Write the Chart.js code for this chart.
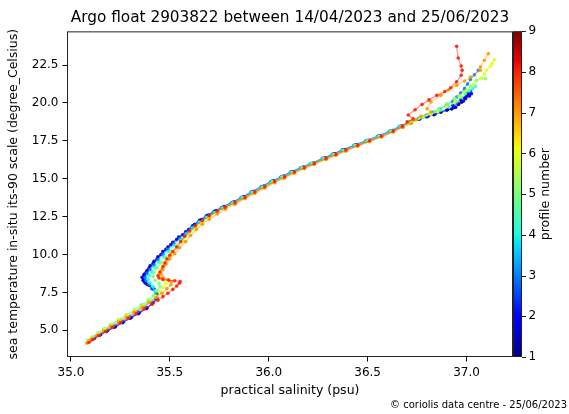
<!DOCTYPE html>
<html><head><meta charset="utf-8">
<script src="https://cdn.jsdelivr.net/npm/chart.js@4.4.0/dist/chart.umd.min.js"></script>
<style>html,body{margin:0;padding:0;background:#fff;overflow:hidden}</style>
</head><body>
<canvas id="c" width="569" height="414"></canvas>
<script>
const chartTitle = 'Argo float 2903822 between 14/04/2023 and 25/06/2023';
const xTitle = 'practical salinity (psu)';
const yTitle = 'sea temperature in-situ its-90 scale (degree_Celsius)';
const cbTitle = 'profile number';
const footer = '© coriolis data centre - 25/06/2023';
const xTicks = [35.0, 35.5, 36.0, 36.5, 37.0];
const yTicks = [5.0, 7.5, 10.0, 12.5, 15.0, 17.5, 20.0, 22.5];
const cbTicks = [1, 2, 3, 4, 5, 6, 7, 8, 9];
const profileNumbers = [1, 2, 3, 4, 5, 6, 7, 8];

const profile1 = [[35.09,4.28],[35.115,4.45],[35.145,4.68],[35.18,4.93],[35.22,5.2],[35.26,5.5],[35.30,5.8],[35.34,6.1],[35.38,6.42],[35.41,6.75],[35.43,7.08],[35.435,7.4],[35.42,7.72],[35.395,7.98],[35.375,8.12],[35.365,8.3],[35.36,8.5],[35.37,8.7],[35.385,8.95],[35.40,9.25],[35.42,9.55],[35.44,9.85],[35.465,10.2],[35.49,10.5],[35.515,10.8],[35.545,11.15],[35.58,11.5],[35.615,11.9],[35.65,12.25],[35.685,12.55],[35.725,12.85],[35.765,13.12],[35.815,13.43],[35.865,13.78],[35.915,14.13],[35.965,14.48],[36.015,14.83],[36.065,15.13],[36.115,15.45],[36.165,15.74],[36.215,16.0],[36.275,16.35],[36.325,16.62],[36.375,16.9],[36.435,17.22],[36.495,17.52],[36.555,17.82],[36.615,18.15],[36.665,18.45],[36.715,18.72],[36.76,18.92],[36.80,19.08],[36.835,19.22],[36.87,19.38],[36.9,19.52],[36.925,19.6],[36.945,19.72],[36.96,19.9],[36.975,20.05],[36.97,20.2],[36.99,20.32],[37.0,20.45],[37.015,20.55],[37.005,20.62]];
const profile2 = [[35.095,4.3],[35.12,4.5],[35.15,4.72],[35.185,4.98],[35.225,5.25],[35.265,5.55],[35.305,5.85],[35.345,6.15],[35.385,6.48],[35.415,6.8],[35.435,7.12],[35.43,7.45],[35.41,7.75],[35.385,8.02],[35.37,8.22],[35.365,8.42],[35.37,8.62],[35.38,8.82],[35.395,9.1],[35.415,9.4],[35.435,9.7],[35.455,10.0],[35.48,10.35],[35.505,10.65],[35.535,11.0],[35.565,11.3],[35.595,11.65],[35.625,12.0],[35.66,12.3],[35.695,12.6],[35.735,12.9],[35.775,13.17],[35.825,13.47],[35.875,13.82],[35.925,14.17],[35.975,14.52],[36.025,14.87],[36.075,15.17],[36.125,15.48],[36.175,15.77],[36.225,16.03],[36.285,16.38],[36.335,16.64],[36.385,16.93],[36.445,17.24],[36.505,17.54],[36.565,17.85],[36.625,18.18],[36.675,18.48],[36.72,18.75],[36.765,18.96],[36.805,19.12],[36.84,19.26],[36.87,19.42],[36.905,19.56],[36.935,19.68],[36.93,19.84],[36.955,19.98],[36.985,20.12],[36.995,20.28],[37.015,20.45],[37.025,20.6],[37.02,20.75]];
const profile3 = [[35.09,4.3],[35.115,4.5],[35.145,4.75],[35.18,5.02],[35.215,5.3],[35.255,5.6],[35.295,5.9],[35.335,6.22],[35.37,6.55],[35.405,6.88],[35.43,7.2],[35.43,7.5],[35.415,7.8],[35.395,8.05],[35.38,8.28],[35.375,8.5],[35.385,8.75],[35.40,9.0],[35.42,9.3],[35.44,9.65],[35.465,10.0],[35.49,10.35],[35.52,10.7],[35.55,11.05],[35.58,11.4],[35.61,11.8],[35.645,12.15],[35.68,12.47],[35.72,12.78],[35.76,13.07],[35.81,13.4],[35.86,13.75],[35.91,14.1],[35.96,14.45],[36.01,14.8],[36.06,15.1],[36.11,15.42],[36.16,15.72],[36.21,15.98],[36.27,16.32],[36.32,16.58],[36.37,16.87],[36.43,17.18],[36.49,17.48],[36.55,17.78],[36.61,18.12],[36.66,18.42],[36.71,18.7],[36.755,18.95],[36.795,19.15],[36.83,19.38],[36.865,19.6],[36.9,19.84],[36.93,20.1],[36.95,20.39],[36.97,20.65],[36.99,20.94],[37.005,21.25],[37.02,21.54],[37.04,21.85],[37.06,22.15]];
const profile4 = [[35.085,4.32],[35.11,4.55],[35.14,4.8],[35.17,5.08],[35.205,5.38],[35.245,5.7],[35.285,6.0],[35.325,6.32],[35.36,6.65],[35.395,6.98],[35.42,7.3],[35.425,7.6],[35.415,7.88],[35.40,8.12],[35.39,8.35],[35.395,8.6],[35.41,8.85],[35.425,9.15],[35.445,9.5],[35.47,9.85],[35.495,10.2],[35.525,10.6],[35.555,10.95],[35.585,11.35],[35.615,11.75],[35.65,12.12],[35.685,12.45],[35.725,12.77],[35.765,13.07],[35.815,13.4],[35.865,13.75],[35.915,14.1],[35.965,14.45],[36.015,14.8],[36.065,15.12],[36.115,15.43],[36.165,15.73],[36.215,16.0],[36.275,16.33],[36.325,16.6],[36.375,16.88],[36.435,17.2],[36.495,17.5],[36.555,17.8],[36.615,18.14],[36.665,18.44],[36.715,18.72],[36.76,19.0],[36.80,19.22],[36.84,19.42],[36.87,19.52],[36.91,19.75],[36.95,20.06],[36.975,20.35],[36.995,20.6],[37.015,20.8],[37.03,20.94],[37.045,21.1]];
const profile5 = [[35.085,4.3],[35.105,4.52],[35.135,4.8],[35.165,5.08],[35.2,5.38],[35.24,5.7],[35.28,6.02],[35.32,6.35],[35.355,6.68],[35.39,7.0],[35.42,7.3],[35.435,7.6],[35.45,7.88],[35.445,8.1],[35.425,8.3],[35.415,8.55],[35.42,8.8],[35.435,9.1],[35.455,9.45],[35.48,9.8],[35.505,10.15],[35.535,10.55],[35.565,10.95],[35.595,11.35],[35.625,11.75],[35.655,12.1],[35.69,12.42],[35.73,12.75],[35.77,13.05],[35.82,13.38],[35.87,13.73],[35.92,14.08],[35.97,14.43],[36.02,14.78],[36.07,15.1],[36.12,15.41],[36.17,15.71],[36.22,15.98],[36.28,16.31],[36.33,16.58],[36.38,16.86],[36.44,17.18],[36.50,17.48],[36.56,17.79],[36.62,18.13],[36.67,18.43],[36.72,18.73],[36.77,19.05],[36.82,19.3],[36.86,19.6],[36.9,19.95],[36.94,20.3],[36.99,20.72],[37.02,21.1],[37.05,21.49],[37.075,21.62],[37.095,21.6]];
const profile6 = [[35.085,4.25],[35.105,4.48],[35.135,4.75],[35.17,5.05],[35.205,5.35],[35.245,5.67],[35.285,5.98],[35.325,6.3],[35.365,6.62],[35.4,6.95],[35.43,7.25],[35.45,7.55],[35.47,7.85],[35.48,8.1],[35.47,8.3],[35.45,8.5],[35.445,8.75],[35.455,9.05],[35.47,9.4],[35.49,9.75],[35.515,10.1],[35.54,10.5],[35.57,10.9],[35.6,11.3],[35.63,11.7],[35.66,12.05],[35.695,12.38],[35.735,12.72],[35.775,13.02],[35.825,13.36],[35.875,13.71],[35.925,14.06],[35.975,14.41],[36.025,14.76],[36.075,15.08],[36.125,15.39],[36.175,15.69],[36.225,15.96],[36.285,16.29],[36.335,16.56],[36.385,16.84],[36.445,17.16],[36.505,17.46],[36.565,17.77],[36.625,18.1],[36.675,18.4],[36.725,18.7],[36.78,19.07],[36.82,19.25],[36.855,19.42],[36.9,19.75],[36.94,20.06],[36.97,20.45],[37.0,20.83],[37.035,21.2],[37.07,21.6],[37.09,21.9],[37.10,22.15],[37.12,22.4],[37.13,22.59],[37.14,22.85]];
const profile7 = [[35.08,4.15],[35.1,4.38],[35.13,4.65],[35.165,4.95],[35.2,5.25],[35.24,5.57],[35.28,5.88],[35.32,6.2],[35.36,6.52],[35.395,6.85],[35.43,7.15],[35.46,7.45],[35.485,7.75],[35.505,8.0],[35.51,8.2],[35.49,8.35],[35.465,8.48],[35.455,8.7],[35.465,9.0],[35.48,9.35],[35.5,9.7],[35.525,10.05],[35.55,10.45],[35.58,10.85],[35.605,11.25],[35.635,11.65],[35.665,12.0],[35.7,12.33],[35.74,12.67],[35.78,12.98],[35.83,13.32],[35.88,13.68],[35.93,14.03],[35.98,14.38],[36.03,14.73],[36.08,15.05],[36.13,15.36],[36.18,15.66],[36.23,15.94],[36.29,16.27],[36.34,16.54],[36.39,16.82],[36.45,17.14],[36.51,17.44],[36.57,17.75],[36.63,18.08],[36.68,18.38],[36.72,18.65],[36.745,18.9],[36.77,19.12],[36.82,19.4],[36.80,19.62],[36.82,20.06],[36.87,20.5],[36.91,20.85],[36.95,21.16],[36.99,21.45],[37.02,21.7],[37.07,22.15],[37.07,22.37],[37.09,22.81],[37.11,23.25]];
const profile8 = [[35.09,4.2],[35.11,4.4],[35.14,4.65],[35.175,4.92],[35.21,5.2],[35.25,5.5],[35.29,5.8],[35.33,6.1],[35.37,6.42],[35.41,6.72],[35.44,6.98],[35.465,7.22],[35.49,7.45],[35.515,7.7],[35.535,7.92],[35.548,8.1],[35.552,8.22],[35.525,8.27],[35.495,8.3],[35.465,8.36],[35.445,8.45],[35.44,8.6],[35.45,8.85],[35.465,9.2],[35.475,9.45],[35.485,9.7],[35.5,9.95],[35.515,10.2],[35.535,10.5],[35.555,10.85],[35.575,11.2],[35.6,11.55],[35.63,11.9],[35.665,12.25],[35.7,12.55],[35.74,12.85],[35.78,13.12],[35.83,13.42],[35.88,13.77],[35.93,14.12],[35.98,14.47],[36.03,14.82],[36.08,15.12],[36.13,15.44],[36.18,15.73],[36.23,16.0],[36.29,16.34],[36.34,16.6],[36.39,16.89],[36.45,17.2],[36.51,17.5],[36.57,17.8],[36.63,18.14],[36.675,18.45],[36.70,18.75],[36.73,18.95],[36.705,19.2],[36.74,19.55],[36.775,19.9],[36.81,20.2],[36.85,20.5],[36.89,20.75],[36.92,21.0],[36.95,21.4],[36.973,21.82],[36.978,22.15],[36.973,22.43],[36.958,22.96],[36.95,23.73]];
const profiles = [profile1, profile2, profile3, profile4, profile5, profile6, profile7, profile8];

// matplotlib "jet" colormap
function jet(v) {
  const seg = {
    r: [[0,0],[0.35,0],[0.66,1],[0.89,1],[1,0.5]],
    g: [[0,0],[0.125,0],[0.375,1],[0.64,1],[0.91,0],[1,0]],
    b: [[0,0.5],[0.11,1],[0.34,1],[0.65,0],[1,0]]
  };
  const f = pts => {
    for (let i = 1; i < pts.length; i++) {
      if (v <= pts[i][0]) {
        const [x0, y0] = pts[i-1], [x1, y1] = pts[i];
        return y0 + (y1 - y0) * (v - x0) / (x1 - x0);
      }
    }
    return pts[pts.length-1][1];
  };
  return [f(seg.r), f(seg.g), f(seg.b)].map(c => Math.round(c * 255));
}
const cbMin = cbTicks[0], cbMax = cbTicks[cbTicks.length-1];

const datasets = profiles.map((pts, i) => {
  const n = profileNumbers[i];
  const [r, g, b] = jet((n - cbMin) / (cbMax - cbMin));
  return {
    label: 'profile ' + n,
    data: pts.map(([x, y]) => ({x, y})),
    showLine: true,
    borderColor: `rgba(${r},${g},${b},0.5)`,
    borderWidth: 1.2,
    pointRadius: 1.8,
    pointBorderWidth: 0,
    pointBackgroundColor: `rgba(${r},${g},${b},0.9)`,
    order: 20 - n
  };
});

const frameAndColorbar = {
  id: 'frameAndColorbar',
  afterDraw(chart) {
    const {ctx, chartArea: a} = chart;
    const cb = chart.scales.cb;
    ctx.save();
    // colorbar
    const x0 = a.right, w = 9;
    const yTop = cb.getPixelForValue(cbMax), yBot = cb.getPixelForValue(cbMin);
    const grad = ctx.createLinearGradient(0, yBot, 0, yTop);
    for (let k = 0; k <= 100; k++) {
      const [r, g, b] = jet(k / 100);
      grad.addColorStop(k / 100, `rgb(${r},${g},${b})`);
    }
    ctx.fillStyle = grad;
    ctx.fillRect(x0, yTop, w, yBot - yTop);
    ctx.strokeStyle = '#222';
    ctx.lineWidth = 1;
    ctx.strokeRect(x0 + 0.5, yTop + 0.5, w - 1, yBot - yTop - 1);
    cbTicks.forEach(v => {
      const y = Math.round(cb.getPixelForValue(v)) + 0.5;
      ctx.beginPath(); ctx.moveTo(x0 + w, y); ctx.lineTo(x0 + w + 4, y); ctx.stroke();
    });
    // frame
    ctx.strokeStyle = '#222';
    ctx.strokeRect(a.left + 0.5, a.top + 0.5, a.right - a.left - 1, a.bottom - a.top - 1);
    // colorbar label
    ctx.fillStyle = '#000';
    ctx.font = '12.5px "DejaVu Sans"';
    ctx.textAlign = 'center';
    ctx.textBaseline = 'middle';
    ctx.translate(546, (a.top + a.bottom) / 2);
    ctx.rotate(-Math.PI / 2);
    ctx.fillText(cbTitle, 0, 0);
    ctx.restore();
  }
};

Chart.defaults.font.family = '"DejaVu Sans"';
Chart.defaults.color = '#000';

new Chart(document.getElementById('c'), {
  type: 'scatter',
  data: { datasets },
  plugins: [frameAndColorbar],
  options: {
    responsive: false,
    animation: false,
    devicePixelRatio: 1,
    layout: { padding: { left: 0, right: 2, top: 0, bottom: 0 } },
    plugins: {
      legend: { display: false },
      tooltip: { enabled: false },
      title: { display: true, text: chartTitle, fullSize: false, color: '#000',
        font: { size: 15.3, weight: 'normal' }, padding: { top: 9, bottom: 4 } },
      subtitle: { display: true, text: footer, position: 'bottom', align: 'end', color: '#000',
        font: { size: 10, weight: 'normal' }, padding: { top: 0, bottom: 2.5 } }
    },
    scales: {
      x: {
        type: 'linear', min: 34.98, max: 37.235,
        afterBuildTicks: s => { s.ticks = xTicks.map(v => ({value: v})); },
        afterFit: s => { s.height = 42.5; },
        grid: { drawOnChartArea: false, drawTicks: true, tickLength: 4.5, tickColor: '#000', tickWidth: 1 },
        border: { display: false },
        ticks: { font: { size: 12 }, padding: 3.7, maxRotation: 0, autoSkip: false, callback: v => v.toFixed(1) },
        title: { display: true, text: xTitle, font: { size: 12.5 }, padding: { top: 0, bottom: 1.5 } }
      },
      y: {
        type: 'linear', position: 'left', min: 3.24, max: 24.72,
        afterBuildTicks: s => { s.ticks = yTicks.map(v => ({value: v})); },
        afterFit: s => { s.width = 67; },
        grid: { drawOnChartArea: false, drawTicks: true, tickLength: 4.5, tickColor: '#000', tickWidth: 1 },
        border: { display: false },
        ticks: { font: { size: 12 }, padding: 4, autoSkip: false, callback: v => v.toFixed(1) },
        title: { display: true, text: yTitle, font: { size: 12.5 }, padding: { top: 6.5, bottom: 0 } }
      },
      cb: {
        type: 'linear', position: 'right', min: cbMin, max: cbMax,
        afterBuildTicks: s => { s.ticks = cbTicks.map(v => ({value: v})); },
        afterFit: s => { s.width = 54; },
        grid: { drawOnChartArea: false, drawTicks: true, tickLength: 13, tickColor: 'rgba(0,0,0,0)' },
        border: { display: false },
        ticks: { font: { size: 12 }, padding: 2.5, autoSkip: false, callback: v => String(v) }
      }
    }
  }
});
</script>
</body></html>
